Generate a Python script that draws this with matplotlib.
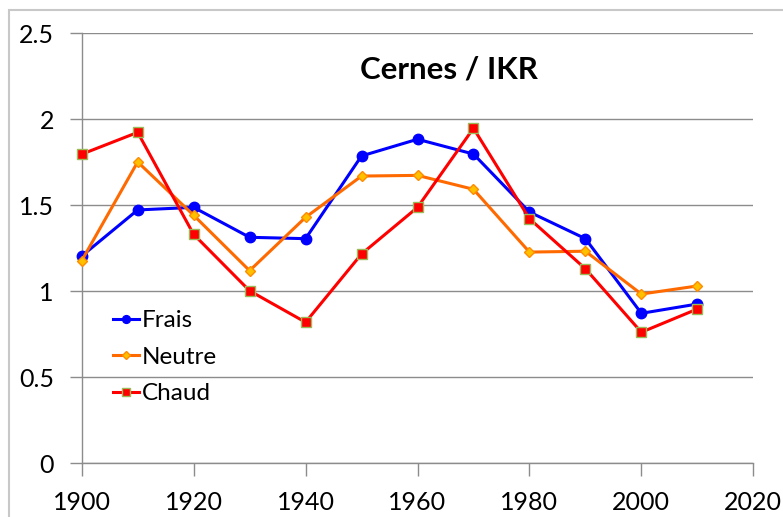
import matplotlib
matplotlib.use("Agg")
import matplotlib.pyplot as plt
from matplotlib.patches import Rectangle

plt.rcParams['font.family'] = ['Lato', 'DejaVu Sans']

years = [1900, 1910, 1920, 1930, 1940, 1950, 1960, 1970, 1980, 1990, 2000, 2010]
frais = [1.205, 1.473, 1.488, 1.314, 1.306, 1.787, 1.884, 1.798, 1.461, 1.306, 0.872, 0.926]
neutre = [1.178, 1.752, 1.442, 1.120, 1.430, 1.670, 1.674, 1.593, 1.228, 1.233, 0.984, 1.031]
chaud = [1.797, 1.924, 1.331, 1.003, 0.820, 1.217, 1.488, 1.948, 1.422, 1.131, 0.762, 0.897]

xticks = [1900, 1920, 1940, 1960, 1980, 2000, 2020]
yticks = [0, 0.5, 1, 1.5, 2, 2.5]
ytick_labels = ["0", "0.5", "1", "1.5", "2", "2.5"]

W, H = 783, 517
fig = plt.figure(figsize=(W / 100, H / 100), dpi=100)

# light chart-area border
fig.patches.append(Rectangle((9 / W, -0.05), 1.2, 1 - 10 / H + 0.05,
                             transform=fig.transFigure, fill=False,
                             edgecolor='#c8c8c8', linewidth=1.5))

x0, x1, y0, y1 = 81.7, 753.3, 463.3, 33.3
ax = fig.add_axes([x0 / W, 1 - y0 / H, (x1 - x0) / W, (y0 - y1) / H])

ax.plot(years, frais, color='#0000ff', lw=2.2, marker='o', ms=7.5,
        mfc='#0000ff', mec='#0000ff', label='Frais', zorder=3, clip_on=False)
ax.plot(years, neutre, color='#ff6a00', lw=2.2, marker='D', ms=5.5,
        mfc='#ffc000', mec='#ff8c00', mew=1, label='Neutre', zorder=3, clip_on=False)
ax.plot(years, chaud, color='#ff0000', lw=2.2, marker='s', ms=7,
        mfc='#ff0000', mec='#9bbb59', mew=1, label='Chaud', zorder=4, clip_on=False)

ax.set_xlim(1900, 2020)
ax.set_ylim(0, 2.5)
ax.set_xticks(xticks)
ax.set_xticklabels([str(x) for x in xticks])
ax.set_yticks(yticks)
ax.set_yticklabels(ytick_labels)
ax.grid(axis='y', color='#8c8c8c', lw=1)
ax.set_axisbelow(True)

for side in ('top', 'right'):
    ax.spines[side].set_visible(False)
for side in ('left', 'bottom'):
    ax.spines[side].set_color('#8c8c8c')
    ax.spines[side].set_linewidth(1)

ax.tick_params(axis='both', direction='out', length=9, width=1, color='#8c8c8c',
               labelsize=18)
ax.tick_params(axis='x', pad=11)
ax.tick_params(axis='y', pad=11)

ax.text((360.5 - x0) / (x1 - x0), 0.916, 'Cernes / IKR', transform=ax.transAxes,
        ha='left', va='center', fontsize=22.5, fontweight='bold', color='black')

leg = ax.legend(loc='upper left',
                bbox_to_anchor=((113 - x0) / (x1 - x0), (y0 - 310) / (y0 - y1)),
                frameon=False, fontsize=17.5, handlelength=1.05, handletextpad=0.12,
                labelspacing=0.64, markerscale=0.75, borderaxespad=0, borderpad=0)

fig.savefig('out.png', dpi=100)
